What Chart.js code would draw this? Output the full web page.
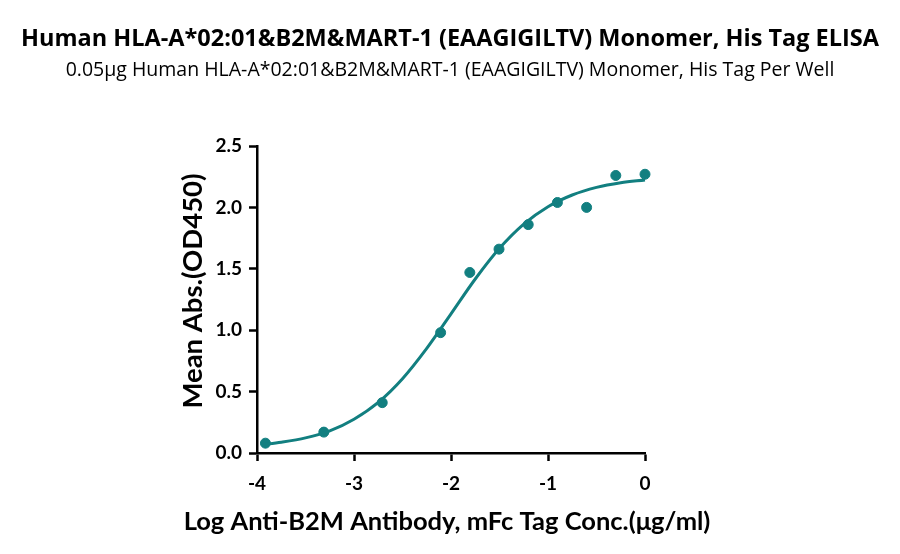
<!DOCTYPE html>
<html>
<head>
<meta charset="utf-8">
<script src="https://cdn.jsdelivr.net/npm/chart.js@4.4.0/dist/chart.umd.min.js"></script>
<style>
html,body{margin:0;padding:0;background:#fff;}
#wrap{width:900px;height:554px;}
</style>
</head>
<body>
<div id="wrap"><canvas id="c" width="900" height="554"></canvas></div>
<script>
const titleText = "Human HLA-A*02:01&B2M&MART-1 (EAAGIGILTV) Monomer, His Tag ELISA";
const subtitleText = "0.05μg Human HLA-A*02:01&B2M&MART-1 (EAAGIGILTV) Monomer, His Tag Per Well";
const xTitle = "Log Anti-B2M Antibody, mFc Tag Conc.(μg/ml)";
const yTitle = "Mean Abs.(OD450)";

// measured points (log concentration, OD450)
const pointX = [-3.913, -3.311, -2.709, -2.107, -1.806, -1.505, -1.204, -0.903, -0.602, -0.301, 0];
const pointY = [0.08, 0.17, 0.41, 0.98, 1.47, 1.66, 1.86, 2.04, 2.00, 2.26, 2.27];

// fitted curve
const curveX = [-3.95, -3.75, -3.5, -3.25, -3.0, -2.75, -2.5, -2.25, -2.0, -1.75, -1.5, -1.25, -1.0, -0.75, -0.5, -0.25, 0];
const curveY = [0.068, 0.088, 0.123, 0.180, 0.275, 0.412, 0.605, 0.852, 1.133, 1.417, 1.667, 1.864, 2.006, 2.101, 2.163, 2.201, 2.224];

const xTicks = [-4, -3, -2, -1, 0];
const yTicks = [0.0, 0.5, 1.0, 1.5, 2.0, 2.5];

const teal = '#127f80';
const FONT = "Lato, sans-serif";
const TFONT = "'Open Sans', sans-serif";

const axisTitles = {
  id: 'axisTitles',
  afterDraw(chart) {
    const ctx = chart.ctx;
    ctx.save();
    ctx.fillStyle = '#000';
    ctx.textAlign = 'center';
    ctx.textBaseline = 'middle';
    ctx.font = "bold 25.5px " + FONT;
    ctx.fillText(xTitle, 447, 522);
    ctx.translate(193, 291);
    ctx.rotate(-Math.PI / 2);
    ctx.font = "bold 27.5px " + FONT;
    ctx.fillText(yTitle, 0, 0);
    ctx.restore();
  }
};

new Chart(document.getElementById('c'), {
  type: 'scatter',
  data: {
    datasets: [
      {
        type: 'line',
        data: curveX.map((x, i) => ({x, y: curveY[i]})),
        borderColor: teal,
        borderWidth: 3,
        pointRadius: 0,
        cubicInterpolationMode: 'monotone',
        fill: false,
        clip: false
      },
      {
        type: 'scatter',
        data: pointX.map((x, i) => ({x, y: pointY[i]})),
        backgroundColor: teal,
        borderColor: teal,
        pointRadius: 5,
        clip: false
      }
    ]
  },
  plugins: [axisTitles],
  options: {
    responsive: false,
    animation: false,
    layout: {padding: 0},
    plugins: {
      legend: {display: false},
      tooltip: {enabled: false},
      title: {
        display: true,
        text: titleText,
        color: '#000',
        font: {family: TFONT, size: 23.5, weight: 'bold', lineHeight: 1.2},
        padding: {top: 25.5, bottom: 3}
      },
      subtitle: {
        display: true,
        text: subtitleText,
        color: '#000',
        font: {family: TFONT, size: 19.5, weight: 'normal', lineHeight: 1.2},
        padding: {top: 2.1, bottom: 63.8}
      }
    },
    scales: {
      x: {
        type: 'linear',
        min: -4, max: 0,
        afterBuildTicks: s => { s.ticks = xTicks.map(v => ({value: v})); },
        afterFit: s => { s.height = 101; },
        grid: {display: true, drawOnChartArea: false, drawTicks: true, tickLength: 8, tickWidth: 2.5, tickColor: '#000'},
        border: {display: true, color: '#000', width: 2.5},
        ticks: {color: '#000', padding: 11, font: {family: FONT, size: 19, weight: 'bold'}, callback: v => String(v)},
        title: {display: false}
      },
      y: {
        type: 'linear',
        position: 'left',
        min: 0, max: 2.5,
        afterBuildTicks: s => { s.ticks = yTicks.map(v => ({value: v})); },
        afterFit: s => { s.width = 257; },
        grid: {display: true, drawOnChartArea: false, drawTicks: true, tickLength: 8, tickWidth: 2.5, tickColor: '#000'},
        border: {display: true, color: '#000', width: 2.5},
        ticks: {color: '#000', padding: 7, font: {family: FONT, size: 19, weight: 'bold'}, callback: v => Number(v).toFixed(1)},
        title: {display: false}
      },
      yr: {
        type: 'linear',
        position: 'right',
        display: true,
        afterFit: s => { s.width = 255; },
        grid: {display: false, drawTicks: false},
        border: {display: false},
        ticks: {display: false}
      }
    }
  }
});
</script>
</body>
</html>
